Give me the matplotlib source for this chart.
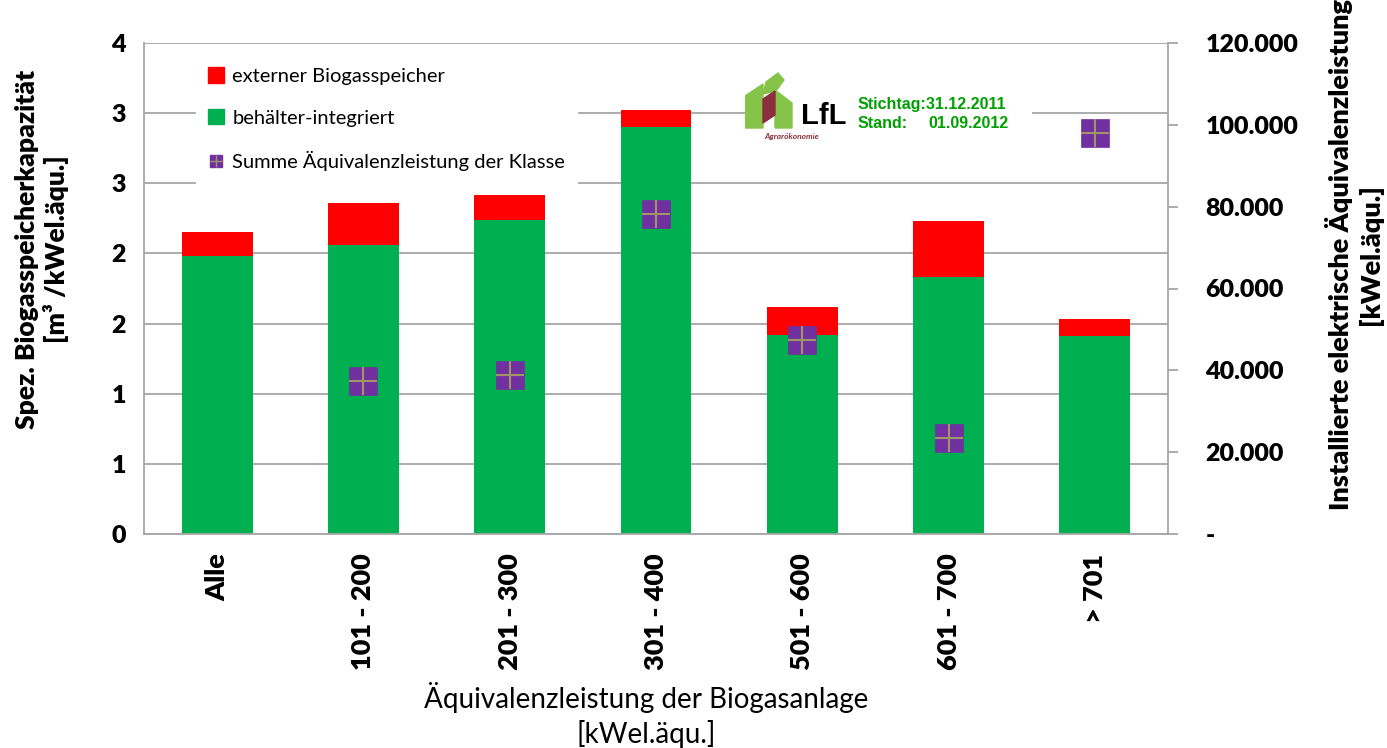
import math
import matplotlib
matplotlib.use('Agg')
import matplotlib.pyplot as plt
from matplotlib.lines import Line2D
from matplotlib.patches import Patch, Polygon
import numpy as np

plt.rcParams['font.family'] = ['Lato', 'DejaVu Sans']

# Daten
klassen = ['Alle', '101 - 200', '201 - 300', '301 - 400', '501 - 600', '601 - 700', '> 701']
integriert = np.array([1.98, 2.06, 2.24, 2.90, 1.42, 1.83, 1.41])   # m3/kWel.äqu.
extern = np.array([0.17, 0.30, 0.18, 0.12, 0.20, 0.40, 0.12])
summe_leistung = np.array([np.nan, 37300, 38800, 78200, 47300, 23500, 98000])  # kWel.äqu.

left_ticks = [0, 0.5, 1.0, 1.5, 2.0, 2.5, 3.0, 3.5]
right_ticks = [0, 20000, 40000, 60000, 80000, 100000, 120000]

gruen = '#00B050'
rot = '#FF0000'
lila = '#7030A0'
kreuz = '#A09468'
grau = '#A6A6A6'
fett = 'heavy'

W, H = 1387, 748
fig = plt.figure(figsize=(W / 100, H / 100), dpi=100)
ax1 = fig.add_axes([144 / W, 1 - 534 / H, 1024 / W, 491 / H])

x = np.arange(len(klassen))
ax1.bar(x, integriert, width=0.485, color=gruen, zorder=2)
ax1.bar(x, extern, bottom=integriert, width=0.485, color=rot, zorder=2)

ax1.set_xlim(-0.5, 6.5)
ax1.set_ylim(0, 3.5)
# Excel-Format "0": rundet 0,5 auf
ax1.set_yticks(left_ticks, [str(math.floor(t + 0.5)) for t in left_ticks],
               fontweight=fett, fontsize=18)
ax1.set_xticks(x, klassen, rotation=90, fontweight=fett, fontsize=19.5)
ax1.tick_params(axis='y', length=0, pad=13)
ax1.tick_params(axis='x', length=0, pad=14)
ax1.grid(axis='y', color=grau, linewidth=1.3, zorder=0)
ax1.set_axisbelow(True)
ax1.spines['top'].set_visible(False)
ax1.spines['right'].set_visible(False)
for s in ['left', 'bottom']:
    ax1.spines[s].set_color(grau)
    ax1.spines[s].set_linewidth(1.3)

# zweite Achse: Summe Äquivalenzleistung
ax2 = ax1.twinx()
ax2.plot(x, summe_leistung, ls='none', marker='s', ms=20, mew=0.5, color=lila, mec=lila, zorder=3)
ax2.plot(x, summe_leistung, ls='none', marker='+', ms=20, mew=1.5, color=kreuz, zorder=4)
ax2.set_ylim(0, 120000)
ax2.set_yticks(right_ticks, ['-' if t == 0 else f'{t:,.0f}'.replace(',', '.') for t in right_ticks],
               fontweight=fett, fontsize=18)
ax2.tick_params(axis='y', length=7, color=grau, width=1.3, pad=20)
for s in ['top', 'left', 'bottom']:
    ax2.spines[s].set_visible(False)
ax2.spines['right'].set_color(grau)
ax2.spines['right'].set_linewidth(1.3)

# Legende
handles = [Patch(color=rot), Patch(color=gruen),
           (Line2D([], [], ls='none', marker='s', ms=8, color=lila),
            Line2D([], [], ls='none', marker='+', ms=8, mew=1, color=kreuz))]
labels = ['externer Biogasspeicher', 'behälter-integriert', 'Summe Äquivalenzleistung der Klasse']
leg = ax2.legend(handles, labels, loc='upper left', bbox_to_anchor=(0.041, 0.996),
                 fontsize=14.5, frameon=True, facecolor='white', edgecolor='white', framealpha=1,
                 fancybox=False, handlelength=0.8, handleheight=0.8, handletextpad=0.4,
                 labelspacing=1.2, borderpad=0.6)
leg.set_zorder(10)

# Achsentitel
fig.text(646 / W, 1 - 715 / H, 'Äquivalenzleistung der Biogasanlage\n[kWel.äqu.]',
         ha='center', va='center', fontsize=20, linespacing=1.3)
fig.text(42 / W, 1 - 249 / H, 'Spez. Biogasspeicherkapazität\n[m³ /kWel.äqu.]',
         rotation=90, ha='center', va='center', multialignment='center',
         fontsize=19, fontweight=fett, linespacing=1.2)
fig.text(1354 / W, 1 - 255 / H, 'Installierte elektrische Äquivalenzleistung\n[kWel.äqu.]',
         rotation=90, ha='center', va='center', multialignment='center',
         fontsize=19.5, fontweight=fett, linespacing=1.2)

# LfL-Logo und Stand
lax = fig.add_axes([745 / W, 1 - 140 / H, (1032 - 745) / W, 78 / H])
lax.set_xlim(745, 1032)
lax.set_ylim(140, 62)
lax.set_xticks([])
lax.set_yticks([])
for s in lax.spines.values():
    s.set_visible(False)
lax.set_facecolor('white')
hellgruen = '#86C449'
dunkelrot = '#8B2E3E'
lax.add_patch(Polygon([(745, 96), (763, 84), (763, 128), (745, 128)], color=hellgruen))
lax.add_patch(Polygon([(763, 94), (766, 82), (778, 73), (784, 80), (776, 91)], color=hellgruen))
lax.add_patch(Polygon([(775, 90), (792, 103), (792, 128), (775, 128)], color=hellgruen))
lax.add_patch(Polygon([(763, 99), (775, 91), (775, 115), (763, 123)], color=dunkelrot))
lax.text(801, 124, 'LfL', fontsize=21, fontweight='bold', color='black',
         family='Liberation Sans', va='baseline')
lax.text(764, 136, 'Agrarökonomie', fontsize=6, fontweight='bold', style='italic',
         color=dunkelrot, va='center')
lax.text(858, 104, 'Stichtag:31.12.2011', fontsize=11.5, fontweight='bold', color='#00A000',
         family='Liberation Sans', va='center')
lax.text(858, 124, 'Stand:', fontsize=11.5, fontweight='bold', color='#00A000',
         family='Liberation Sans', va='center')
lax.text(1009, 124, '01.09.2012', fontsize=11.5, fontweight='bold', color='#00A000',
         family='Liberation Sans', va='center', ha='right')

fig.savefig('out.png', dpi=100)
